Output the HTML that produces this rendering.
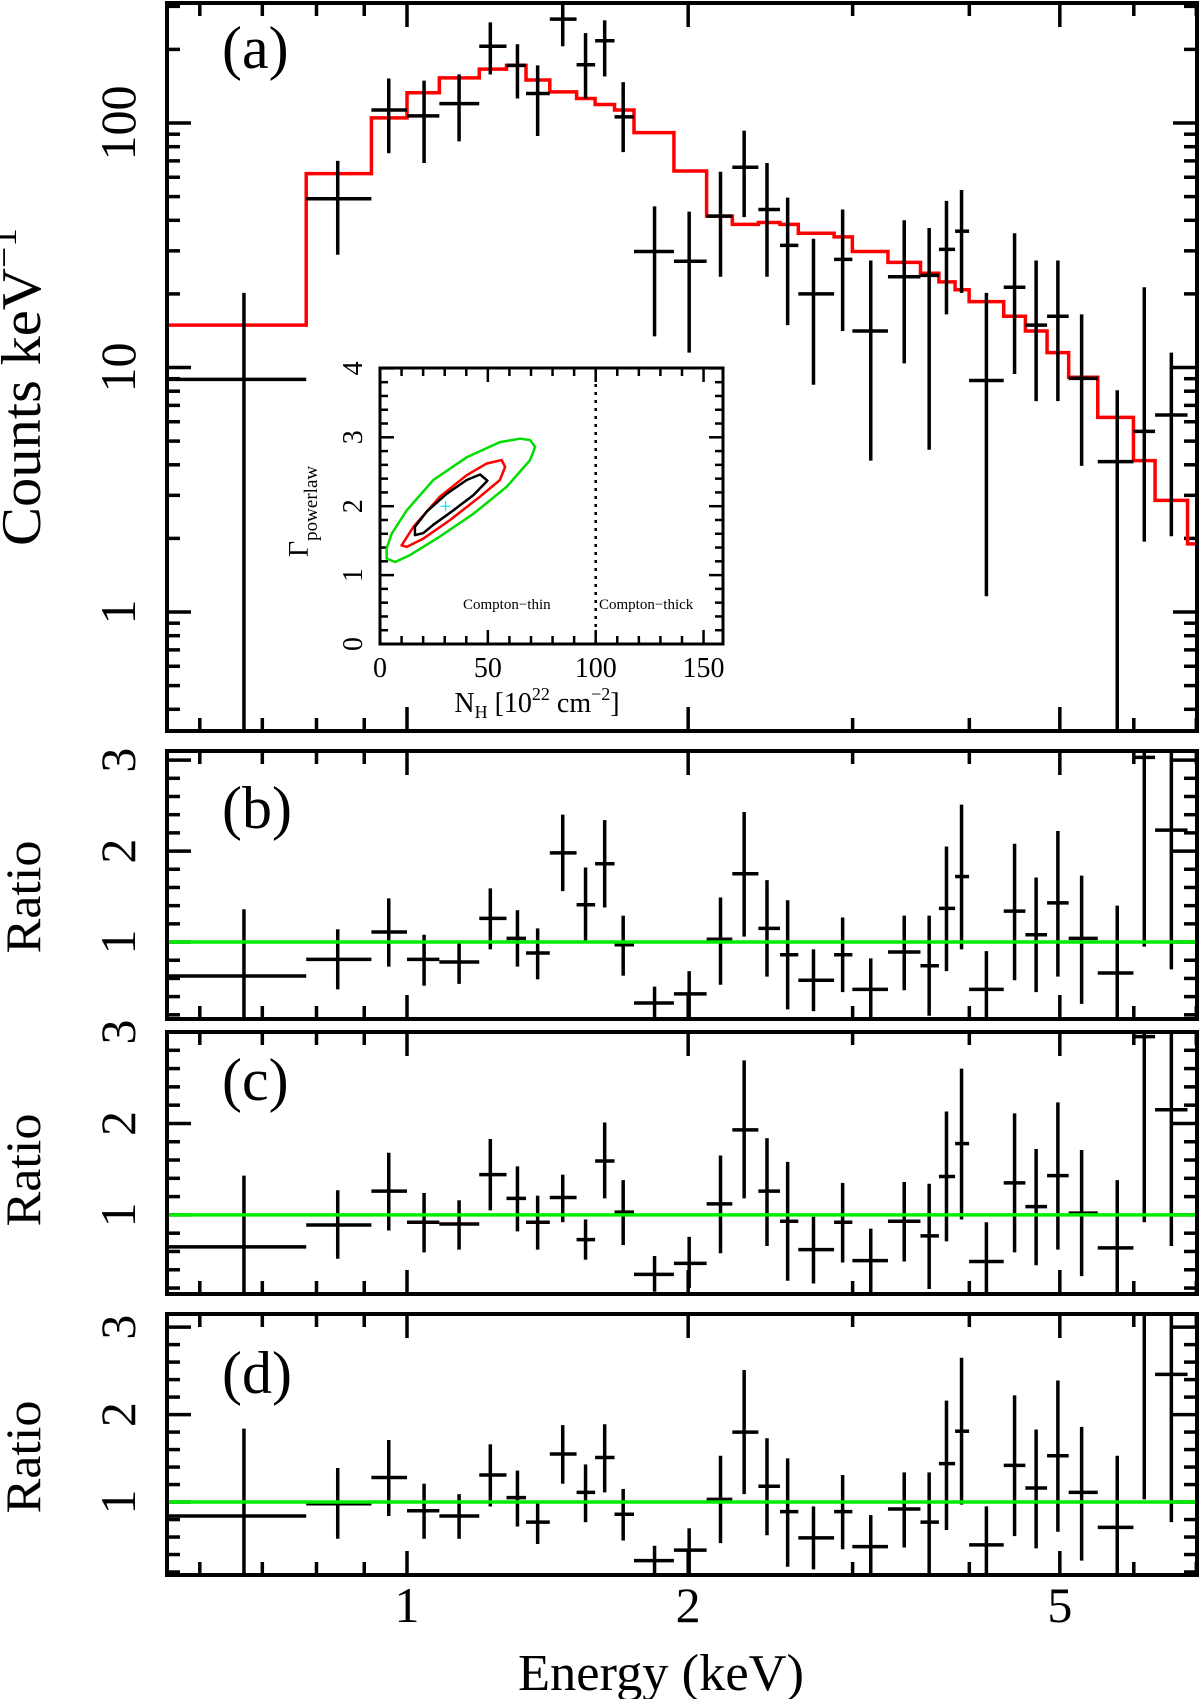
<!DOCTYPE html>
<html><head><meta charset="utf-8"><style>
html,body{margin:0;padding:0;background:#fff}
svg{display:block}
text{font-family:"Liberation Serif",serif;fill:#000}
</style></head><body>
<svg id="fig" xmlns="http://www.w3.org/2000/svg" width="1200" height="1699" viewBox="0 0 1200 1699">
<rect width="1200" height="1699" fill="#fff"/>
<defs>
<clipPath id="clipA"><rect x="167" y="3" width="1030" height="728"/></clipPath>
<clipPath id="clipB"><rect x="167" y="751" width="1030" height="268"/></clipPath>
<clipPath id="clipC"><rect x="167" y="1032" width="1030" height="262"/></clipPath>
<clipPath id="clipD"><rect x="167" y="1314" width="1030" height="261"/></clipPath>
</defs>
<g id="gA"></g>
<g id="gB"></g>
<g id="gC"></g>
<g id="gD"></g>
<g id="gI"></g>

<text x="222" y="68" font-size="60">(a)</text>
<text x="222" y="828" font-size="60">(b)</text>
<text x="222" y="1100" font-size="60">(c)</text>
<text x="222" y="1393" font-size="60">(d)</text>

<text transform="translate(40,387) rotate(-90)" text-anchor="middle" font-size="56" textLength="318" lengthAdjust="spacingAndGlyphs">Counts keV<tspan font-size="36" dy="-24">−1</tspan></text>
<text transform="translate(40,897) rotate(-90)" text-anchor="middle" font-size="50" textLength="113" lengthAdjust="spacingAndGlyphs">Ratio</text>
<text transform="translate(40,1170) rotate(-90)" text-anchor="middle" font-size="50" textLength="113" lengthAdjust="spacingAndGlyphs">Ratio</text>
<text transform="translate(40,1457) rotate(-90)" text-anchor="middle" font-size="50" textLength="113" lengthAdjust="spacingAndGlyphs">Ratio</text>
<text x="661" y="1690" text-anchor="middle" font-size="52" textLength="286" lengthAdjust="spacingAndGlyphs">Energy (keV)</text>

<text x="463" y="609" font-size="15">Compton−thin</text>
<text x="599" y="609" font-size="15">Compton−thick</text>
<text x="537" y="712" text-anchor="middle" font-size="28">N<tspan font-size="18" dy="6">H</tspan><tspan dy="-6"> [10</tspan><tspan font-size="18" dy="-12">22</tspan><tspan dy="12"> cm</tspan><tspan font-size="18" dy="-12">−2</tspan><tspan dy="12">]</tspan></text>
<text transform="translate(308,557) rotate(-90)" font-size="28">Γ<tspan font-size="19" dy="9">powerlaw</tspan></text>

<script>
// ---------- data ----------
const binEdges = [0.553,0.780,0.916,1.000,1.083,1.195,1.278,1.341,1.422,1.519,1.590,1.668,1.750,1.931,2.093,2.230,2.378,2.508,2.624,2.866,2.998,3.273,3.546,3.711,3.862,3.998,4.354,4.593,4.845,5.110,5.490,5.995,6.323,6.85,7.01];
const binCenters = [0.669,0.843,0.956,1.043,1.137,1.228,1.313,1.380,1.468,1.553,1.628,1.704,1.841,2.005,2.166,2.296,2.429,2.556,2.724,2.927,3.137,3.407,3.623,3.781,3.924,4.172,4.472,4.716,4.976,5.276,5.760,6.157,6.582];
const counts = [8.94,49.0,113,107,120,206,172,132,266,173,217,106,29.8,27.2,41.6,65.9,44.3,31.6,20.0,27.7,14.1,23.5,23.8,30.4,36.1,8.85,21.3,14.9,16.2,9.03,4.12,5.48,6.39];
const countsHi = [20.2,70,152,149,158,258,210,172,310,233,263,147,45.6,43.4,63.2,93.1,68.6,49.5,33.6,44.3,27.4,40.0,37.2,48.0,53.2,20.2,35.4,27.4,27.4,16.5,8.07,21.3,11.5];
const countsLo = [0.1,28.9,75.2,68.6,84.1,158,126,88.5,206,126,155,76,13.4,11.5,23.5,41.2,23.5,14.9,8.5,14.1,4.16,10.4,4.61,16.5,20.2,1.16,9.41,7.29,7.29,3.96,0.1,1.94,2.04];
const model = [14.9,62.1,105,133,153,166,172,150,134,126,119,113,91.3,63.6,41.6,38.5,39.2,38.5,35.4,34.2,29.8,26.9,24.3,22.4,20.8,18.6,16.2,14.1,11.5,9.12,6.25,4.16,2.86,1.90];

const ratioB = [0.626,0.81,1.11,0.81,0.78,1.26,1.04,0.88,1.98,1.41,1.86,0.97,0.33,0.43,1.03,1.75,1.15,0.86,0.58,0.86,0.48,0.89,0.74,1.37,1.72,0.48,1.34,1.08,1.43,1.04,0.66,3.03,2.23];
const ratioBHi = [1.36,1.14,1.48,1.08,1.0,1.59,1.35,1.15,2.40,1.82,2.34,1.29,0.51,0.68,1.49,2.43,1.68,1.46,0.92,1.27,0.82,1.29,1.29,2.05,2.51,0.90,2.08,1.71,2.22,1.73,1.40,3.5,3.5];
const ratioBLo = [0.1,0.48,0.73,0.52,0.54,0.92,0.73,0.59,1.56,0.99,1.38,0.63,0.1,0.1,0.53,1.06,0.62,0.26,0.24,0.45,0.1,0.47,0.19,0.68,0.92,0.1,0.58,0.45,0.62,0.32,0.1,0.95,0.70];

const ratioC = [0.65,0.89,1.26,0.92,0.90,1.44,1.18,0.92,1.19,0.73,1.59,1.03,0.35,0.47,1.12,1.93,1.26,0.93,0.62,0.92,0.50,0.93,0.77,1.42,1.78,0.49,1.35,1.09,1.43,1.02,0.64,2.95,2.15];
const ratioCHi = [1.43,1.27,1.68,1.24,1.16,1.83,1.53,1.21,1.44,0.95,2.01,1.38,0.55,0.76,1.65,2.69,1.84,1.58,0.98,1.35,0.85,1.36,1.34,2.13,2.60,0.92,2.11,1.72,2.23,1.71,1.38,3.5,3.5];
const ratioCLo = [0.1,0.52,0.83,0.59,0.62,1.05,0.82,0.62,0.92,0.51,1.18,0.67,0.16,0.20,0.58,1.18,0.66,0.28,0.25,0.48,0.1,0.49,0.19,0.71,0.95,0.1,0.59,0.45,0.62,0.33,0.1,0.92,0.66];

const ratioD = [0.84,0.98,1.28,0.90,0.84,1.31,1.05,0.77,1.55,1.11,1.51,0.86,0.33,0.45,1.03,1.80,1.18,0.89,0.59,0.89,0.49,0.92,0.77,1.44,1.81,0.51,1.42,1.16,1.53,1.11,0.71,3.4,2.46];
const ratioDHi = [1.84,1.39,1.71,1.21,1.09,1.66,1.36,1.01,1.88,1.43,1.89,1.15,0.50,0.70,1.53,2.51,1.73,1.50,0.95,1.31,0.85,1.34,1.34,2.16,2.65,0.95,2.22,1.83,2.39,1.86,1.53,3.6,3.5];
const ratioDLo = [0.1,0.58,0.84,0.58,0.58,0.95,0.72,0.52,1.21,0.77,1.11,0.56,0.1,0.1,0.53,1.09,0.62,0.26,0.23,0.46,0.1,0.48,0.18,0.68,0.97,0.1,0.61,0.47,0.66,0.33,0.1,1.03,0.77];

const contour99x = [3.1,7,13.9,27.8,43.3,58.7,69.6,71.9,69.6,64.9,55.6,40.2,24.7,12.4,5.4,3.1];
const contour99y = [1.24,1.19,1.29,1.56,1.89,2.28,2.67,2.86,2.96,2.98,2.93,2.71,2.38,1.94,1.60,1.39];
const contour90x = [10,12.4,20.1,32.5,46.4,55.6,58,56.4,49.5,40.2,27.8,15.5];
const contour90y = [1.43,1.41,1.53,1.80,2.14,2.38,2.57,2.67,2.62,2.45,2.14,1.70];
const contour68x = [16.2,16.2,21.6,30.9,40.2,46.4,49.8,43.3,34,24.7,20.1];
const contour68y = [1.58,1.70,1.92,2.18,2.38,2.46,2.37,2.16,1.94,1.73,1.61];
const bestFitNH = [30.4];
const bestFitGamma = [2.0];
const comptonThickNH = [100];

const xMajorTicks = [1,2,5];
const xMajorLabels = ["1","2","5"];
const xMinorTicks = [0.6,0.7,0.8,0.9,3,4,6,7];
const countTickLabels = ["1","10","100"];
const countTickValues = [1,10,100];
const ratioTickLabels = ["1","2","3"];
const insetXTicks = [0,50,100,150];
const insetYTicks = [0,1,2,3,4];

// ---------- axes ----------
const NS = "http://www.w3.org/2000/svg";
const X0 = 167, X1 = 1197;
function X(E){ return 407 + 934*Math.log10(E); }
function YA(v){ return 612 - 244.5*Math.log10(v); }
function mkRatio(top,bot,ymin,ymax){ return v => bot - (v-ymin)/(ymax-ymin)*(bot-top); }
const panels = {
  B:{top:751,bot:1019,y:mkRatio(751,1019,0.154,3.10),r:ratioB,hi:ratioBHi,lo:ratioBLo},
  C:{top:1032,bot:1294,y:mkRatio(1032,1294,0.135,3.0),r:ratioC,hi:ratioCHi,lo:ratioCLo},
  D:{top:1314,bot:1575,y:mkRatio(1314,1575,0.166,3.15),r:ratioD,hi:ratioDHi,lo:ratioDLo}
};
const IX = v => 380 + v*2.157;
const IY = v => 644 - v*68.9;

function el(tag, attrs, parent){
  const e = document.createElementNS(NS, tag);
  for (const k in attrs) e.setAttribute(k, attrs[k]);
  parent.appendChild(e);
  return e;
}
function line(p, x1,y1,x2,y2,stroke,w){
  return el("line",{x1:x1,y1:y1,x2:x2,y2:y2,stroke:stroke,"stroke-width":w},p);
}

function xTicks(g, top, bot){
  xMajorTicks.forEach(E=>{
    const t1 = line(g, X(E), bot, X(E), bot-24, "#000", 3.5);
    
    
    const t2 = line(g, X(E), top, X(E), top+24, "#000", 3.5);
    
    
  });
  xMinorTicks.forEach(E=>{
    const t1 = line(g, X(E), bot, X(E), bot-13, "#000", 3.5);
    
    
    const t2 = line(g, X(E), top, X(E), top+13, "#000", 3.5);
    
    
  });
}
function frame(g, top, bot, name){
  const r = el("rect",{x:X0,y:top,width:X1-X0,height:bot-top,fill:"none",stroke:"#000","stroke-width":4},g);
  
  
}
function yTickLabel(g, y, txt, name){
  const t = el("text",{transform:`translate(135,${y}) rotate(-90)`,"text-anchor":"middle","font-size":50},g);
  t.textContent = txt;
  
  
}

// ---------- panel A ----------
const gA = document.getElementById("gA");
xTicks(gA, 3, 731);
for (let d=-1; d<=2; d++){
  for (let m=1; m<=9; m++){
    const v = m*Math.pow(10,d);
    if (v < 0.327 || v > 309) continue;
    const len = m===1 ? 24 : 13;
    const t1 = line(gA, X0, YA(v), X0+len, YA(v), "#000", 3.5);
    
    
    const t2 = line(gA, X1, YA(v), X1-len, YA(v), "#000", 3.5);
    
    
  }
}
countTickValues.forEach((v,i)=>yTickLabel(gA, YA(v), countTickLabels[i], 'y-tick-label-counts'));
const dA = el("g",{"clip-path":"url(#clipA)"},gA);


let mp = "";
model.forEach((v,i)=>{
  const x1 = X(binEdges[i]), x2 = X(binEdges[i+1]), y = YA(v);
  mp += (i===0 ? `M${x1-5},${y}` : `L${x1},${y}`) + `L${x2},${y}`;
});
mp += `L${X(binEdges[binEdges.length-1])+5},${YA(model[model.length-1])}`;
const modelPath = el("path",{d:mp,fill:"none",stroke:"#ff0000","stroke-width":3.5},dA);


counts.forEach((v,i)=>{
  const g = el("g",{},dA);
  
  
  line(g, X(binEdges[i]), YA(v), X(binEdges[i+1]), YA(v), "#000", 3.5);
  line(g, X(binCenters[i]), YA(countsHi[i]), X(binCenters[i]), YA(countsLo[i]), "#000", 3.5);
});
frame(gA, 3, 731, 'panel-a-frame');

// ---------- ratio panels ----------
["B","C","D"].forEach(k=>{
  const P = panels[k];
  const g = document.getElementById("g"+k);
  xTicks(g, P.top, P.bot);
  for (let v=0.2; v<3.3; v+=0.2){
    const vv = Math.round(v*10)/10;
    const y = P.y(vv);
    if (y < P.top+2 || y > P.bot-2) continue;
    const len = (Math.abs(vv-Math.round(vv))<1e-6) ? 24 : 13;
    const t1 = line(g, X0, y, X0+len, y, "#000", 3.5);
    
    
    const t2 = line(g, X1, y, X1-len, y, "#000", 3.5);
    
    
  }
  ratioTickLabels.forEach((s,i)=>yTickLabel(g, P.y(i+1), s, 'ratio-tick-label'));
  const d = el("g",{"clip-path":`url(#clip${k})`},g);
  
  
  P.r.forEach((v,i)=>{
    const gp = el("g",{},d);
    
    
    line(gp, X(binEdges[i]), P.y(v), X(binEdges[i+1]), P.y(v), "#000", 3.5);
    line(gp, X(binCenters[i]), P.y(P.hi[i]), X(binCenters[i]), P.y(P.lo[i]), "#000", 3.5);
  });
  const ref = line(d, X0, P.y(1), X1, P.y(1), "#00ee00", 3.5);
  
  
  frame(g, P.top, P.bot, 'panel-'+k.toLowerCase()+'-frame');
});

const gD = document.getElementById("gD");
xMajorTicks.forEach((E,i)=>{
  const t = el("text",{x:X(E),y:1622,"text-anchor":"middle","font-size":50},gD);
  t.textContent = xMajorLabels[i];
  
  
});

// ---------- inset ----------
const gI = document.getElementById("gI");
const bg = el("rect",{x:380,y:368,width:343,height:276,fill:"#fff"},gI);


for (let v=0; v<=159; v+=10){
  const len = v%50===0 ? 14 : 8;
  const t1 = line(gI, IX(v), 644, IX(v), 644-len, "#000", 2.5);
  
  
  const t2 = line(gI, IX(v), 368, IX(v), 368+len, "#000", 2.5);
  
  
}
for (let i=0; i<=20; i++){
  const v = i*0.2;
  const len = i%5===0 ? 14 : 8;
  const t1 = line(gI, 380, IY(v), 380+len, IY(v), "#000", 2.5);
  
  
  const t2 = line(gI, 723, IY(v), 723-len, IY(v), "#000", 2.5);
  
  
}
insetXTicks.forEach(v=>{
  const t = el("text",{x:IX(v),y:677,"text-anchor":"middle","font-size":28},gI);
  t.textContent = String(v);
  
  
});
insetYTicks.forEach(v=>{
  const t = el("text",{transform:`translate(362,${IY(v)}) rotate(-90)`,"text-anchor":"middle","font-size":28},gI);
  t.textContent = String(v);
  
  
});
function contour(xs, ys, color, name){
  const pts = xs.map((x,i)=>`${IX(x)},${IY(ys[i])}`).join(" ");
  const p = el("polygon",{points:pts,fill:"none",stroke:color,"stroke-width":2.5,"stroke-linejoin":"round"},gI);
  
  
}
contour(contour99x, contour99y, "#00dd00", 'contour-99');
contour(contour90x, contour90y, "#ff0000", 'contour-90');
contour(contour68x, contour68y, "#000000", 'contour-68');
const bx = IX(bestFitNH[0]), by = IY(bestFitGamma[0]);
const c1 = line(gI, bx-5, by, bx+5, by, "#00e5ff", 1.2);


const c2 = line(gI, bx, by-5, bx, by+5, "#00e5ff", 1.2);


const dv = line(gI, IX(comptonThickNH[0]), 368, IX(comptonThickNH[0]), 644, "#000", 2.5);
dv.setAttribute('stroke-dasharray', '3,5');


const fr = el("rect",{x:380,y:368,width:343,height:276,fill:"none",stroke:"#000","stroke-width":3},gI);


</script>
</svg>
</body></html>
